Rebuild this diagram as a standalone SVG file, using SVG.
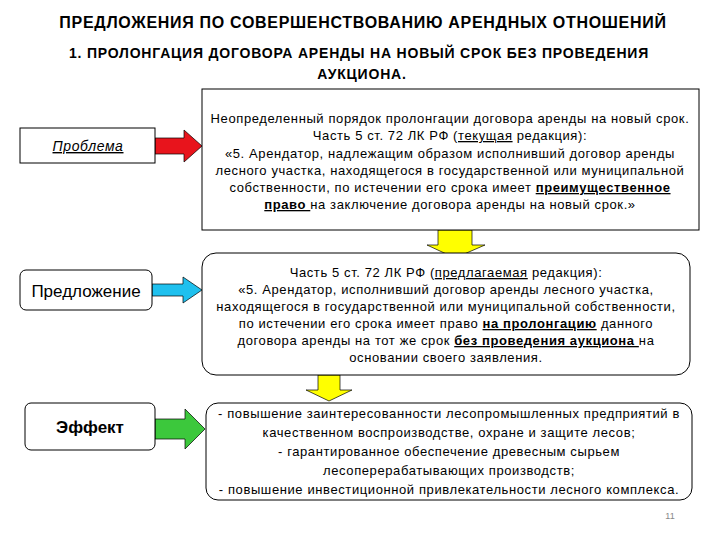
<svg xmlns="http://www.w3.org/2000/svg" width="720" height="540" viewBox="0 0 720 540">
<style>
text{font-family:"Liberation Sans",Arial,sans-serif;fill:#000}
.t{font-size:13px;letter-spacing:0.6px;text-anchor:middle}
.h{font-weight:bold;text-anchor:middle}
.box{fill:#fff;stroke:#000;stroke-width:1}
.b{font-weight:bold;text-decoration:underline}
.u{text-decoration:underline}
</style>
<rect width="720" height="540" fill="#fff"/>
<text class="h" x="363" y="28" font-size="16" letter-spacing="0.7">ПРЕДЛОЖЕНИЯ ПО СОВЕРШЕНСТВОВАНИЮ АРЕНДНЫХ ОТНОШЕНИЙ</text>
<text class="h" x="359" y="58" font-size="14" letter-spacing="0.8">1. ПРОЛОНГАЦИЯ ДОГОВОРА АРЕНДЫ НА НОВЫЙ СРОК БЕЗ ПРОВЕДЕНИЯ</text>
<text class="h" x="362" y="79" font-size="14" letter-spacing="0.8">АУКЦИОНА.</text>
<g id="connectors" stroke="#000" stroke-width="0.7">
<path d="M155,138 H184 V130 L202,146 L184,162 V154 H155 Z" fill="#e8141c"/>
<path d="M152,284 H183 V277 L202,290 L183,303 V296 H152 Z" fill="#1fc0ee"/>
<path d="M155,419 H185 V409 L205,429 L185,449 V439 H155 Z" fill="#3cc83c"/>
<path d="M438,230 H472 V245 H485 L455,258 L427,245 H438 Z" fill="#ffff00"/>
<path d="M318,375 H340 V390 H352 L329,401 L306,390 H318 Z" fill="#ffff00"/>
</g>
<g id="problem">
<rect class="box" x="20" y="128" width="135" height="35"/>
<text x="88" y="151" font-size="14" font-style="italic" text-anchor="middle" text-decoration="underline" letter-spacing="0.6">Проблема</text>
</g>
<g id="proposal">
<rect class="box" x="20" y="270" width="132" height="40" rx="6"/>
<text x="86" y="297" font-size="17" text-anchor="middle">Предложение</text>
</g>
<g id="effect">
<rect class="box" x="25" y="403" width="130" height="47" rx="6"/>
<text x="90" y="433" font-size="17" font-weight="bold" text-anchor="middle">Эффект</text>
</g>
<g id="current">
<rect class="box" x="202" y="89" width="497" height="141"/>
<text class="t" x="450" y="123">Неопределенный порядок пролонгации договора аренды на новый срок.</text>
<text class="t" x="450" y="140">Часть 5 ст. 72 ЛК РФ (<tspan class="u">текущая</tspan> редакция):</text>
<text class="t" x="450" y="158">«5. Арендатор, надлежащим образом исполнивший договор аренды</text>
<text class="t" x="450" y="175">лесного участка, находящегося в государственной или муниципальной</text>
<text class="t" x="450" y="192">собственности, по истечении его срока имеет <tspan class="b">преимущественное</tspan></text>
<text class="t" x="450" y="209"><tspan class="b">право </tspan>на заключение договора аренды на новый срок.»</text>
</g>
<g id="proposed">
<rect class="box" x="202" y="253" width="488" height="122" rx="14"/>
<text class="t" x="446" y="277">Часть 5 ст. 72 ЛК РФ (<tspan class="u">предлагаемая</tspan> редакция):</text>
<text class="t" x="446" y="294">«5. Арендатор, исполнивший договор аренды лесного участка,</text>
<text class="t" x="446" y="311">находящегося в государственной или муниципальной собственности,</text>
<text class="t" x="446" y="328">по истечении его срока имеет право <tspan class="b">на пролонгацию</tspan> данного</text>
<text class="t" x="446" y="345">договора аренды на тот же срок <tspan class="b">без проведения аукциона </tspan>на</text>
<text class="t" x="446" y="362">основании своего заявления.</text>
</g>
<g id="effects">
<rect class="box" x="206" y="403" width="486" height="97" rx="12"/>
<text class="t" x="449" y="418">- повышение заинтересованности лесопромышленных предприятий в</text>
<text class="t" x="449" y="437">качественном воспроизводстве, охране и защите лесов;</text>
<text class="t" x="449" y="456">- гарантированное обеспечение древесным сырьем</text>
<text class="t" x="449" y="475">лесоперерабатывающих производств;</text>
<text class="t" x="449" y="494">- повышение инвестиционной привлекательности лесного комплекса.</text>
</g>
<text x="670" y="519" font-size="9" style="fill:#888" text-anchor="middle">11</text>
</svg>
